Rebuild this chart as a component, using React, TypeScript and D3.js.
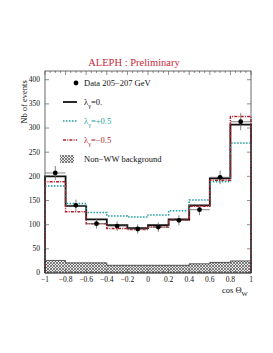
import React from "react";
import * as d3 from "d3";

// bin edges of cos(theta_W), 10 bins from -1 to 1
const EDGES = [-1, -0.8, -0.6, -0.4, -0.2, 0, 0.2, 0.4, 0.6, 0.8, 1];
const BIN_CENTERS = [-0.9, -0.7, -0.5, -0.3, -0.1, 0.1, 0.3, 0.5, 0.7, 0.9];

const DATA = [207, 140, 102, 97, 91, 95, 109, 131, 198, 313];
const LAMBDA_0 = [200, 139, 111, 99, 93, 99, 111, 140, 196, 307];
const LAMBDA_PLUS = [180, 144, 125, 118, 116, 120, 129, 151, 189, 269];
const LAMBDA_MINUS = [189, 127, 102, 92, 90, 95, 109, 138, 192, 324];
const BACKGROUND = [26, 21, 21, 16, 16, 16, 16, 19, 22, 25];

const X_TICKS = [-1, -0.8, -0.6, -0.4, -0.2, 0, 0.2, 0.4, 0.6, 0.8, 1];
const X_TICK_LABELS = ["\u22121", "\u22120.8", "\u22120.6", "\u22120.4", "\u22120.2", "0", "0.2", "0.4", "0.6", "0.8", "1"];
const Y_TICKS = [0, 50, 100, 150, 200, 250, 300, 350, 400];

const FONT = "Liberation Serif, Times New Roman, serif";
const CYAN = "#1a9e9e";
const RED = "#b3202a";

const MARGIN = { top: 71, right: 22, bottom: 80, left: 45 };
const WIDTH = 273;
const HEIGHT = 353;

export default function App() {
  const boundsWidth = WIDTH - MARGIN.left - MARGIN.right;
  const boundsHeight = HEIGHT - MARGIN.top - MARGIN.bottom;

  const xScale = d3.scaleLinear().domain([-1, 1]).range([0, boundsWidth]);
  const yScale = d3.scaleLinear().domain([0, 418]).range([boundsHeight, 0]);

  // histogram outline going down to 0 at both ends
  const histPoints = (vals: number[]): [number, number][] => {
    const pts: [number, number][] = [[EDGES[0], 0]];
    vals.forEach((v, i) => {
      pts.push([EDGES[i], v]);
      pts.push([EDGES[i + 1], v]);
    });
    pts.push([EDGES[EDGES.length - 1], 0]);
    return pts;
  };
  const line = d3
    .line<[number, number]>()
    .x((d) => xScale(d[0]))
    .y((d) => yScale(d[1]));

  const bgArea = d3
    .area<[number, number]>()
    .x((d) => xScale(d[0]))
    .y0(yScale(0))
    .y1((d) => yScale(d[1]));

  const minorX = d3.range(-1, 1.0001, 0.05);

  return (
    <svg width={WIDTH} height={HEIGHT} style={{ position: "absolute", left: 0, top: 0 }}>
      <defs>
        <pattern id="hatch" width="3" height="3" patternUnits="userSpaceOnUse">
          <rect width="3" height="3" fill="#e6e6e6" />
          <path d="M0,0 L3,3 M3,0 L0,3" stroke="#555" strokeWidth="0.7" />
        </pattern>
      </defs>
      <rect width={WIDTH} height={HEIGHT} fill="white" />

      <text x={134} y={66} textAnchor="middle" fontFamily={FONT} fontSize={10.5} fill="#c8283a">
        ALEPH : Preliminary
      </text>

      <g transform={`translate(${MARGIN.left},${MARGIN.top})`}>
        {/* background */}
        <path d={bgArea(histPoints(BACKGROUND)) ?? ""} fill="url(#hatch)" stroke="#222" strokeWidth={0.7} />

        {/* MC predictions */}
        <path d={line(histPoints(LAMBDA_0)) ?? ""} fill="none" stroke="#111" strokeWidth={1.8} />
        <path d={line(histPoints(LAMBDA_PLUS)) ?? ""} fill="none" stroke={CYAN} strokeWidth={1.5} strokeDasharray="1.5,1.5" />
        <path d={line(histPoints(LAMBDA_MINUS)) ?? ""} fill="none" stroke={RED} strokeWidth={1.5} strokeDasharray="3,1.2,1,1.2" />

        {/* data */}
        {DATA.map((v, i) => {
          const err = Math.sqrt(v);
          return (
            <g key={i}>
              <line x1={xScale(EDGES[i])} x2={xScale(EDGES[i + 1])} y1={yScale(v)} y2={yScale(v)} stroke="#666" strokeWidth={0.8} />
              <line x1={xScale(BIN_CENTERS[i])} x2={xScale(BIN_CENTERS[i])} y1={yScale(v - err)} y2={yScale(v + err)} stroke="#666" strokeWidth={0.8} />
              <circle cx={xScale(BIN_CENTERS[i])} cy={yScale(v)} r={2.4} fill="#000" />
            </g>
          );
        })}

        {/* frame */}
        <rect x={0} y={0} width={boundsWidth} height={boundsHeight} fill="none" stroke="#444" strokeWidth={0.8} />

        {/* x ticks top and bottom */}
        {minorX.map((t, i) => {
          const major = i % 4 === 0;
          const len = major ? 4 : 2;
          return (
            <g key={i}>
              <line x1={xScale(t)} x2={xScale(t)} y1={0} y2={len} stroke="#444" strokeWidth={0.6} />
              <line x1={xScale(t)} x2={xScale(t)} y1={boundsHeight} y2={boundsHeight - len} stroke="#444" strokeWidth={0.6} />
            </g>
          );
        })}
        {X_TICKS.map((t, i) => (
          <text key={i} x={xScale(t)} y={boundsHeight + 9} textAnchor="middle" fontFamily={FONT} fontSize={7.5} fill="#111">
            {X_TICK_LABELS[i]}
          </text>
        ))}

        {/* y ticks left and right */}
        {Y_TICKS.map((t) => (
          <g key={t}>
            <line x1={0} x2={4} y1={yScale(t)} y2={yScale(t)} stroke="#444" strokeWidth={0.6} />
            <line x1={boundsWidth} x2={boundsWidth - 4} y1={yScale(t)} y2={yScale(t)} stroke="#444" strokeWidth={0.6} />
            <text x={-5} y={yScale(t)} dy="0.33em" textAnchor="end" fontFamily={FONT} fontSize={7.5} fill="#111">
              {t}
            </text>
          </g>
        ))}
      </g>

      {/* axis titles */}
      <text transform="translate(27,102) rotate(-90)" textAnchor="middle" fontFamily={FONT} fontSize={8.5} fill="#111">
        Nb of events
      </text>
      <text x={222} y={293} fontFamily={FONT} fontSize={8.5} fill="#111">
        cos Θ<tspan dy={3} fontSize={6.5}>W</tspan>
      </text>

      {/* legend */}
      <g fontFamily={FONT} fontSize={8.5}>
        <circle cx={76} cy={83} r={2.4} fill="#000" />
        <text x={84} y={86} fill="#111">Data 205−207 GeV</text>

        <line x1={63} x2={77} y1={102} y2={102} stroke="#111" strokeWidth={1.8} />
        <text x={84} y={105} fill="#111">
          λ<tspan dy={2.5} fontSize={6.5}>γ</tspan><tspan dy={-2.5}>=0.</tspan>
        </text>

        <line x1={63} x2={77} y1={121} y2={121} stroke={CYAN} strokeWidth={1.5} strokeDasharray="1.5,1.5" />
        <text x={84} y={124} fill={CYAN}>
          λ<tspan dy={2.5} fontSize={6.5}>γ</tspan><tspan dy={-2.5}>=+0.5</tspan>
        </text>

        <line x1={63} x2={77} y1={140} y2={140} stroke={RED} strokeWidth={1.5} strokeDasharray="3,1.2,1,1.2" />
        <text x={84} y={143} fill={RED}>
          λ<tspan dy={2.5} fontSize={6.5}>γ</tspan><tspan dy={-2.5}>=−0.5</tspan>
        </text>

        <rect x={60} y={155} width={14} height={8} fill="url(#hatch)" />
        <text x={84} y={162} fill="#111">Non−WW background</text>
      </g>
    </svg>
  );
}
